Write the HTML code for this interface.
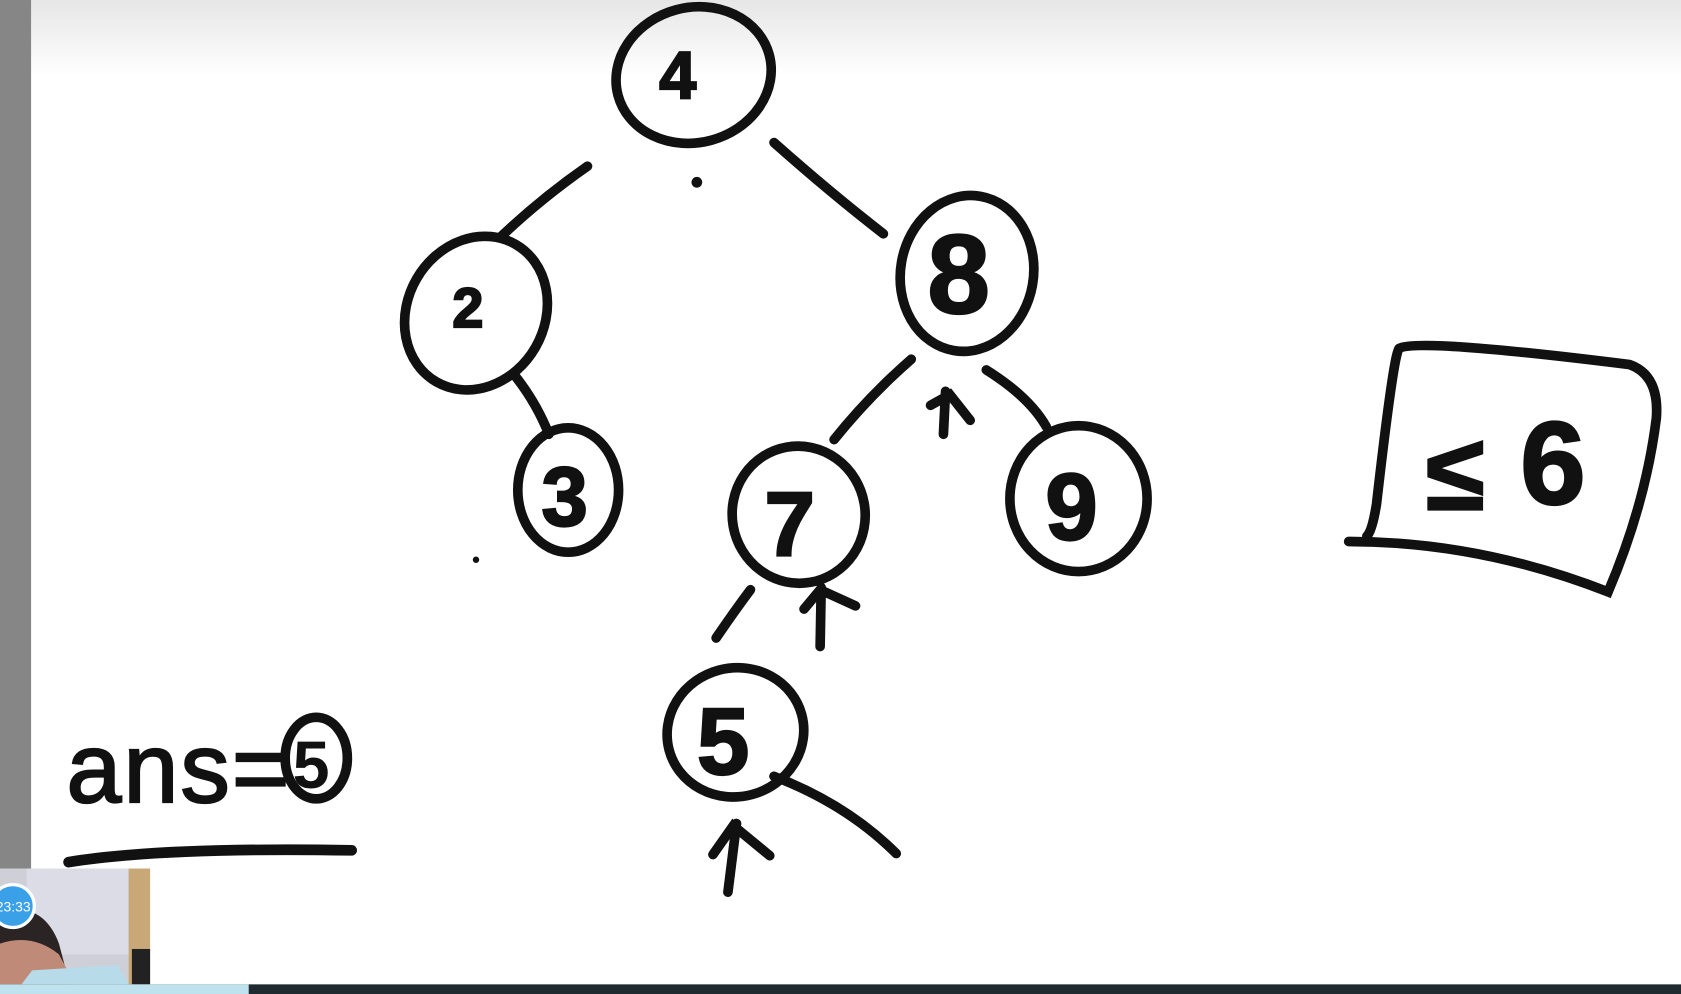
<!DOCTYPE html>
<html><head><meta charset="utf-8"><style>
html,body{margin:0;padding:0;width:1681px;height:994px;overflow:hidden;background:#fff}
svg{display:block}
text{font-family:"Liberation Sans",sans-serif;fill:#111}
</style></head><body>
<svg width="1681" height="994" viewBox="0 0 1568 927" preserveAspectRatio="none">
<defs><linearGradient id="tg" x1="0" y1="0" x2="0" y2="1"><stop offset="0" stop-color="#e6e6e6"/><stop offset="1" stop-color="#fff"/></linearGradient></defs>
<rect width="1568" height="927" fill="#fff"/>
<rect x="29" y="0" width="1539" height="70" fill="url(#tg)"/>
<rect x="0" y="0" width="29" height="927" fill="#868686"/>
<g fill="none" stroke="#111" stroke-width="9" stroke-linecap="round">
<ellipse cx="647" cy="70" rx="73" ry="63" transform="rotate(-15 647 70)"/>
<ellipse cx="444" cy="292" rx="64" ry="74" transform="rotate(30 444 292)"/>
<ellipse cx="530" cy="457" rx="47" ry="58"/>
<ellipse cx="902" cy="255" rx="62" ry="73" transform="rotate(10 902 255)"/>
<ellipse cx="745" cy="480" rx="62" ry="64" transform="rotate(-10 745 480)"/>
<ellipse cx="1006" cy="465" rx="64" ry="68"/>
<ellipse cx="686" cy="683" rx="64" ry="60" transform="rotate(-15 686 683)"/>
<path d="M548 155 Q505 185 468 220"/>
<path d="M722 133 Q775 180 824 218"/>
<path d="M480 350 Q500 375 512 405"/>
<path d="M850 335 Q810 370 778 410"/>
<path d="M920 345 Q960 370 976 398"/>
<path d="M700 550 Q685 570 668 595"/>
<path d="M722 724 Q790 750 836 796"/>
<path d="M882 365 L880 405 M868 378 L886 368 L905 392"/>
<path d="M766 548 L765 603 M750 568 L765 550 L798 565"/>
<path d="M687 768 L679 832 M665 797 L684 770 L718 798"/>
<path d="M1305 325 Q1300 330 1284 470 Q1280 495 1275 500 M1305 325 Q1320 315 1520 340 Q1548 350 1545 390 Q1535 470 1500 552 Q1380 505 1258 505"/>
<path d="M64 804 Q150 790 328 793" stroke-width="10"/>
<ellipse cx="295" cy="707" rx="29" ry="38"/>
</g>
<g font-weight="bold" stroke="#111" stroke-width="2">
<text x="615" y="92" font-size="62">4</text>
<text x="422" y="305" font-size="52">2</text>
<text x="505" y="490" font-size="78">3</text>
<text x="865" y="292" font-size="105">8</text>
<text x="713" y="518" font-size="85">7</text>
<text x="975" y="503" font-size="88">9</text>
<text x="650" y="722" font-size="88">5</text>
<text x="1330" y="475" font-size="100">≤</text>
<text x="1418" y="470" font-size="110">6</text>
</g>
<text x="62" y="748" font-size="92" letter-spacing="2" stroke="#111" stroke-width="2">ans=</text>
<text x="273" y="735" font-size="62" font-weight="bold">5</text>
<circle cx="650" cy="170" r="5" fill="#111"/>
<circle cx="444" cy="522" r="3" fill="#111"/>
<rect x="0" y="810" width="140" height="110" fill="#cfcfd8"/>
<rect x="25" y="810" width="95" height="80" fill="#dcdce6"/>
<rect x="120" y="810" width="20" height="110" fill="#c9a878"/>
<rect x="123" y="885" width="17" height="33" fill="#222"/>
<path d="M0 850 Q40 840 55 880 L65 918 L0 918Z" fill="#2a2424"/>
<path d="M0 880 Q30 870 55 890 L70 918 L0 918Z" fill="#c08a78"/>
<path d="M30 905 L110 900 L120 918 L20 918Z" fill="#b7dbe8"/>
<circle cx="12" cy="845" r="20" fill="#3aa0e8" stroke="#fff" stroke-width="3"/>
<text x="-4" y="850" font-size="13" style="fill:#fff">23:33</text>
<rect x="0" y="918" width="1568" height="9" fill="#1f2a30"/>
<rect x="0" y="918" width="232" height="9" fill="#bfe3ee"/>
</svg>
</body></html>
